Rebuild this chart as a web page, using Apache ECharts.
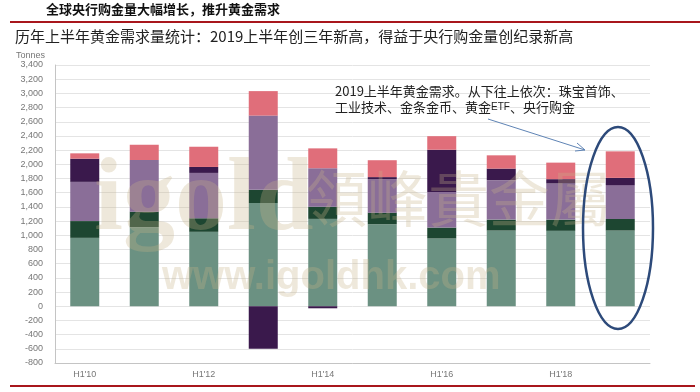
<!DOCTYPE html>
<html><head><meta charset="utf-8">
<script src="https://cdn.jsdelivr.net/npm/echarts@6/dist/echarts.min.js"></script>
<style>html,body{margin:0;padding:0;background:#fff}#c{width:700px;height:392px}</style>
</head><body><div id="c"></div>
<script>
const categories = ["H1'10","H1'11","H1'12","H1'13","H1'14","H1'15","H1'16","H1'17","H1'18","H1'19"];
const jewellery    = [964, 1114, 1049, 1455, 1231, 1156, 955, 1067, 1063, 1067];
const technology   = [236, 219, 191, 186, 172, 163, 154, 154, 158, 164];
const barsCoins    = [553, 728, 639, 1046, 542, 471, 500, 556, 509, 476];
const etfs         = [327, 0, 84, -599, -29, 30, 597, 163, 61, 102];
const centralBanks = [75, 215, 285, 345, 280, 238, 191, 187, 233, 374];
const yMin = -800, yMax = 3400, yStep = 200;

const seriesDefs = [
  ['珠宝首饰', jewellery, '#6b9182'],
  ['工业技术', technology, '#1d4631'],
  ['金条金币', barsCoins, '#8a6e98'],
  ['黄金ETF', etfs, '#3a194c'],
  ['央行购金', centralBanks, '#e06e7a']
];
const cjk = '"Noto Sans CJK SC", sans-serif';
const wm = 'rgba(200,180,135,0.30)';
const chart = echarts.init(document.getElementById('c'), null, {renderer: 'canvas'});
chart.setOption({
  animation: false,
  backgroundColor: '#fff',
  grid: {left: 55, right: 50, top: 65, bottom: 29, containLabel: false},
  xAxis: {
    type: 'category', data: categories,
    axisLine: {onZero: false, lineStyle: {color: '#c4c4c4'}},
    axisTick: {show: false},
    axisLabel: {interval: 1, color: '#777', fontSize: 9, margin: 7, fontFamily: 'Arial, "Liberation Sans"'}
  },
  yAxis: {
    type: 'value', min: yMin, max: yMax, interval: yStep,
    axisLine: {show: true, lineStyle: {color: '#c4c4c4'}},
    axisTick: {show: false},
    splitLine: {lineStyle: {color: '#e4e4e4'}},
    axisLabel: {color: '#777', fontSize: 9, margin: 12, fontFamily: 'Arial, "Liberation Sans"',
      formatter: v => v.toLocaleString('en-US')}
  },
  series: seriesDefs.map(([name, data, color]) => ({
    name, type: 'bar', stack: 'total', data, barWidth: 29,
    itemStyle: {color}
  })),
  graphic: [
    {type: 'text', left: 46, top: 3, z: 10, style: {text: '全球央行购金量大幅增长，推升黄金需求', font: 'bold 13px ' + cjk, fill: '#111'}},
    {type: 'line', z: 10, shape: {x1: 10, y1: 22, x2: 700, y2: 22}, style: {stroke: '#a8161c', lineWidth: 2}},
    {type: 'text', left: 15, top: 29, z: 10, style: {text: '历年上半年黄金需求量统计：2019上半年创三年新高，得益于央行购金量创纪录新高', font: '15px ' + cjk, fill: '#222'}},
    {type: 'text', left: 16, top: 51, z: 10, style: {text: 'Tonnes', font: '9px Arial, "Liberation Sans", sans-serif', fill: '#777'}},
    {type: 'line', z: 10, shape: {x1: 10, y1: 386, x2: 695, y2: 386}, style: {stroke: '#a8161c', lineWidth: 2}},
    {type: 'text', left: 94, top: 150, z: 50, silent: true, style: {text: 'igold', font: 'bold 104px "Liberation Serif", serif', fill: wm}},
    {type: 'text', left: 306, top: 168, z: 50, silent: true, style: {text: '領峰貴金屬', font: '61px ' + cjk, fill: wm}},
    {type: 'text', left: 162, top: 258, z: 50, silent: true, style: {text: 'www.igoldhk.com', font: 'bold 40px "Liberation Sans", sans-serif', fill: wm}},
    {type: 'text', left: 335, top: 85, z: 60, style: {text: '2019上半年黄金需求。从下往上依次：珠宝首饰、', font: '13px ' + cjk, fill: '#222'}},
    {type: 'text', left: 335, top: 101, z: 60, style: {rich: {a: {font: '13px ' + cjk, fill: '#222', lineHeight: 18, verticalAlign: 'bottom'}, s: {font: '10px "Liberation Sans", sans-serif', fill: '#222', lineHeight: 18, verticalAlign: 'bottom', padding: [0, 0, 2, 0]}}, text: '{a|工业技术、金条金币、黄金}{s|ETF}{a|、央行购金}'}},
    {type: 'line', z: 60, shape: {x1: 488, y1: 119, x2: 585, y2: 150}, style: {stroke: '#5f84b5', lineWidth: 1}},
    {type: 'polyline', z: 60, shape: {points: [[577, 143], [585, 150], [575, 151]]}, style: {stroke: '#5f84b5', lineWidth: 1, fill: null}},
    {type: 'ellipse', z: 60, shape: {cx: 618, cy: 228, rx: 35, ry: 101}, style: {stroke: '#2d4a7a', lineWidth: 2.5, fill: null}}
  ]
});
</script></body></html>
